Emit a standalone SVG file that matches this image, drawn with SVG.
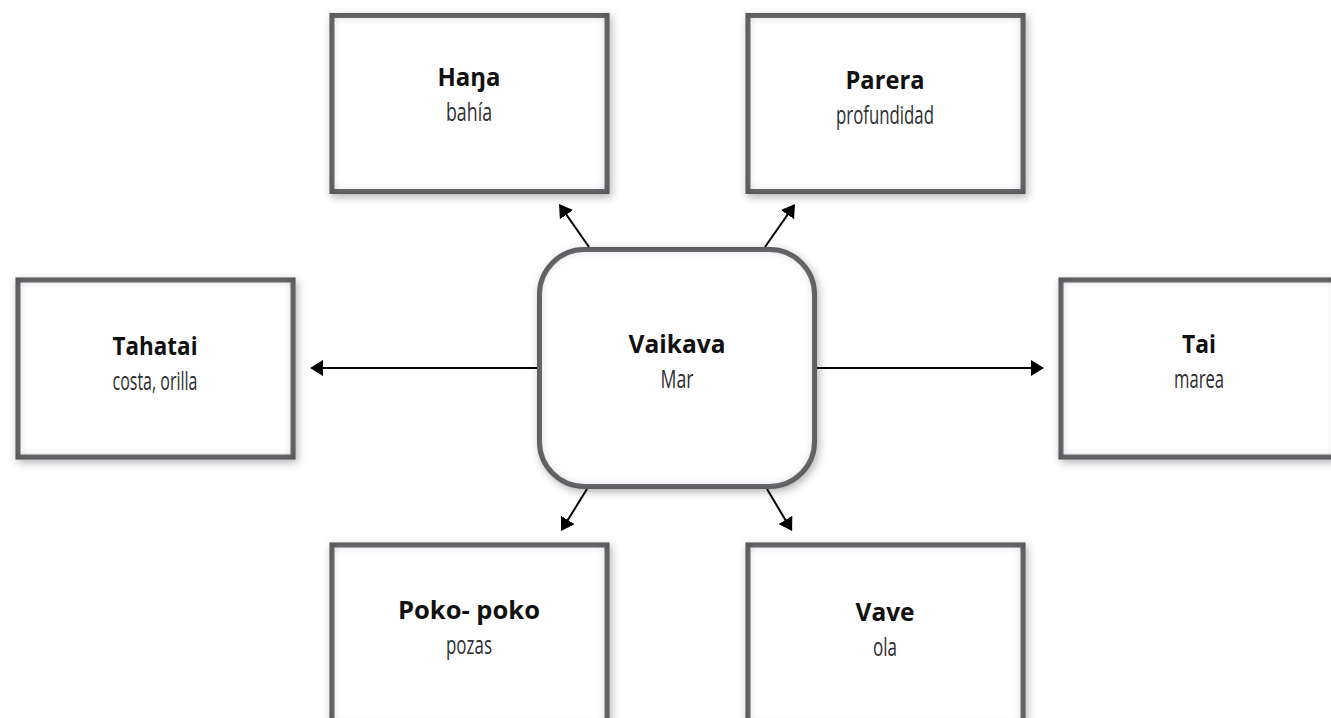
<svg xmlns="http://www.w3.org/2000/svg" width="1331" height="718" viewBox="0 0 1331 718">
<style>
.box{fill:#fff;stroke:#6f7074;stroke-width:5;filter:url(#sh)}
.t{font-family:"Open Sans","Liberation Sans",sans-serif;font-weight:700;font-size:25px;fill:#111;text-anchor:middle}
.s{font-family:"Open Sans","Liberation Sans",sans-serif;font-weight:400;font-size:26px;fill:#2e2e30;text-anchor:middle}
.c{stroke:#000;stroke-width:2;fill:none;marker-end:url(#ah)}
</style>
<defs>
<marker id="ah" viewBox="0 0 13 16" refX="5" refY="8" markerWidth="13" markerHeight="16" markerUnits="userSpaceOnUse" orient="auto">
<path d="M0,0 L13,8 L0,16 z" fill="#000"/>
</marker>
<filter id="sh" x="-8%" y="-8%" width="120%" height="122%" color-interpolation-filters="sRGB">
<feGaussianBlur in="SourceAlpha" stdDeviation="4" result="b"/>
<feOffset in="b" dx="2" dy="3" result="ob"/>
<feFlood flood-color="#000" flood-opacity="0.3" result="c"/>
<feComposite in="c" in2="ob" operator="in" result="drop"/>
<feGaussianBlur in="SourceAlpha" stdDeviation="6" result="b2"/>
<feComposite in="SourceAlpha" in2="b2" operator="out" result="edge"/>
<feFlood flood-color="#000" flood-opacity="0.35"/>
<feComposite in2="edge" operator="in" result="inner"/>
<feMerge><feMergeNode in="drop"/><feMergeNode in="SourceGraphic"/><feMergeNode in="inner"/></feMerge>
</filter>
</defs>
<rect width="1331" height="718" fill="#fff"/>
<g id="connectors">
<line class="c" x1="537" y1="368" x2="318" y2="368"/>
<line class="c" x1="817" y1="368" x2="1036" y2="368"/>
<line class="c" x1="589" y1="247" x2="563.6" y2="210.6"/>
<line class="c" x1="765" y1="247" x2="790.4" y2="210.6"/>
<line class="c" x1="587" y1="489" x2="565.2" y2="524.2"/>
<line class="c" x1="767" y1="489" x2="788" y2="524.2"/>
</g>
<g id="node-hana">
<rect class="box" x="332" y="15.5" width="275" height="176"/>
<text class="t" x="469" y="86" textLength="63" lengthAdjust="spacingAndGlyphs">Haŋa</text>
<text class="s" x="469" y="121" textLength="46" lengthAdjust="spacingAndGlyphs">bahía</text>
</g>
<g id="node-parera">
<rect class="box" x="748" y="15.5" width="275" height="176"/>
<text class="t" x="885" y="89" textLength="79" lengthAdjust="spacingAndGlyphs">Parera</text>
<text class="s" x="885" y="124" textLength="98" lengthAdjust="spacingAndGlyphs">profundidad</text>
</g>
<g id="node-tahatai">
<rect class="box" x="18" y="280" width="275" height="177"/>
<text class="t" x="155" y="355" textLength="85" lengthAdjust="spacingAndGlyphs">Tahatai</text>
<text class="s" x="155" y="390" textLength="85" lengthAdjust="spacingAndGlyphs">costa, orilla</text>
</g>
<g id="node-vaikava">
<rect class="box" x="539.5" y="249.5" width="275" height="237" rx="45" ry="45"/>
<text class="t" x="677" y="353" textLength="97" lengthAdjust="spacingAndGlyphs">Vaikava</text>
<text class="s" x="677" y="388" textLength="33" lengthAdjust="spacingAndGlyphs">Mar</text>
</g>
<g id="node-tai">
<rect class="box" x="1061" y="280" width="275" height="177"/>
<text class="t" x="1199" y="353" textLength="34" lengthAdjust="spacingAndGlyphs">Tai</text>
<text class="s" x="1199" y="388" textLength="50" lengthAdjust="spacingAndGlyphs">marea</text>
</g>
<g id="node-pokopoko">
<rect class="box" x="332" y="545" width="275" height="180"/>
<text class="t" x="469" y="619" textLength="142" lengthAdjust="spacingAndGlyphs">Poko- poko</text>
<text class="s" x="469" y="654" textLength="46" lengthAdjust="spacingAndGlyphs">pozas</text>
</g>
<g id="node-vave">
<rect class="box" x="748" y="545" width="275" height="180"/>
<text class="t" x="885" y="621" textLength="59" lengthAdjust="spacingAndGlyphs">Vave</text>
<text class="s" x="885" y="656" textLength="24" lengthAdjust="spacingAndGlyphs">ola</text>
</g>
</svg>
